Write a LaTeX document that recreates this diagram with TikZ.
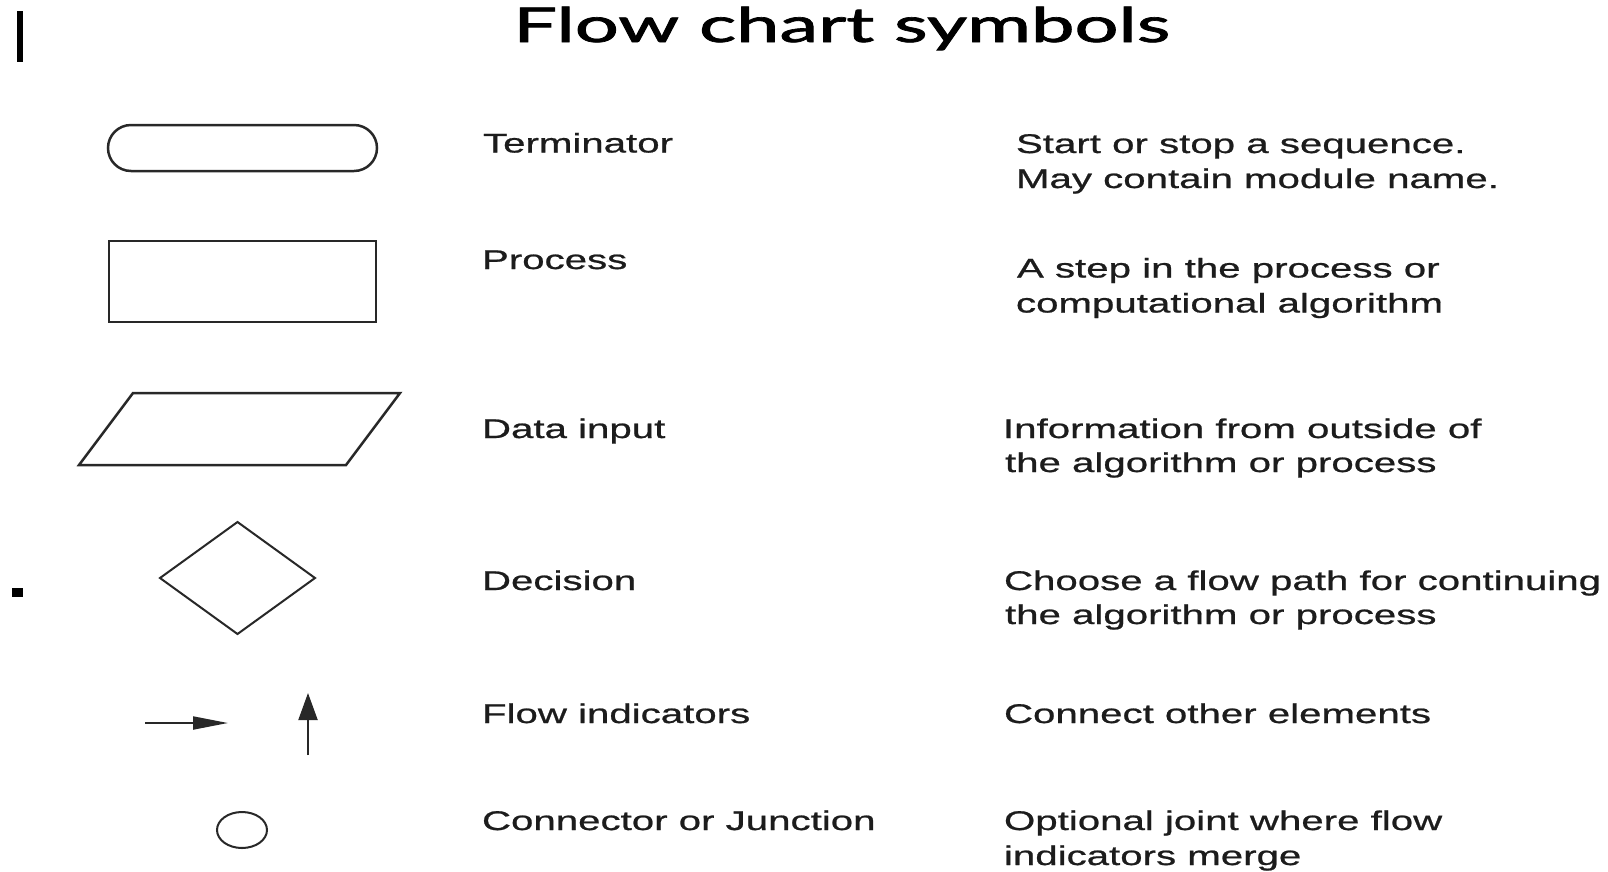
\documentclass[tikz,border=0pt]{standalone}
\usepackage{fontspec}
\usepackage{graphicx}
\usetikzlibrary{shapes.geometric,arrows.meta}
\newfontfamily\bodyfont[FakeStretch=1.49,FakeBold=0.8]{Liberation Sans}
\newfontfamily\titlefont[FakeBold=1.4]{Lato}
\definecolor{txt}{RGB}{28,28,28}
\definecolor{shp}{RGB}{40,40,40}
\begin{document}
\begin{tikzpicture}[x=1pt,y=-1pt,
  lbl/.style={anchor=base west,inner sep=0pt,outer sep=0pt,text=txt,font=\bodyfont\fontsize{27}{34}\selectfont},
  sym/.style={draw=shp,line width=2.5pt,inner sep=0pt,outer sep=0pt},
  thin/.style={draw=shp,line width=2pt,inner sep=0pt,outer sep=0pt},
  arrA/.style={draw=shp,line width=2pt,-{Triangle[length=35pt,width=13pt]}},
  arrB/.style={draw=shp,line width=2pt,-{Triangle[length=27pt,width=19pt]}}]
\useasboundingbox[fill=white] (0,0) rectangle (1608,871);

% title
\node[anchor=base west,inner sep=0pt] (title) at (513,42)
  {\resizebox{657pt}{\height}{\titlefont\fontsize{48}{50}\selectfont Flow chart symbols}};

% slide artefacts
\fill[black] (17,11) rectangle (22.5,62);
\fill[black] (12,588) rectangle (23,597);

% symbols
\node[sym,rectangle,rounded corners=23pt,minimum width=269pt,minimum height=46pt] (term) at (242.5,148) {};
\node[sym,rectangle,minimum width=267pt,minimum height=81pt] (proc) at (242.5,281.5) {};
\draw[sym] (79,465) -- (133,393) -- (400,393) -- (346,465) -- cycle;
\node[thin,diamond,minimum width=155pt,minimum height=112pt] (dec) at (237.5,578) {};
\coordinate (h1) at (145,723);
\coordinate (h2) at (228,723);
\draw[arrA] (h1) -- (h2);
\coordinate (v1) at (308,755);
\coordinate (v2) at (308,693);
\draw[arrB] (v1) -- (v2);
\node[thin,ellipse,minimum width=50pt,minimum height=36pt] (junc) at (242,830) {};

% names
\node[lbl] (n1) at (483,152.5) {Terminator};
\node[lbl] (n2) at (482,269) {Process};
\node[lbl] (n3) at (482,438) {Data input};
\node[lbl] (n4) at (482,590) {Decision};
\node[lbl] (n5) at (482,723) {Flow indicators};
\node[lbl] (n6) at (482,830) {Connector or Junction};

% descriptions
\node[lbl] (d1a) at (1016,153) {Start or stop a sequence.};
\node[lbl] (d1b) at (1016,188) {May contain module name.};
\node[lbl] (d2a) at (1017,277.5) {A step in the process or};
\node[lbl] (d2b) at (1016,312.5) {computational algorithm};
\node[lbl] (d3a) at (1003,438) {Information from outside of};
\node[lbl] (d3b) at (1005,472) {the algorithm or process};
\node[lbl] (d4a) at (1004,590) {Choose a flow path for continuing};
\node[lbl] (d4b) at (1005,624) {the algorithm or process};
\node[lbl] (d5) at (1004,723) {Connect other elements};
\node[lbl] (d6a) at (1004,830) {Optional joint where flow};
\node[lbl] (d6b) at (1004,865) {indicators merge};
\end{tikzpicture}
\end{document}
